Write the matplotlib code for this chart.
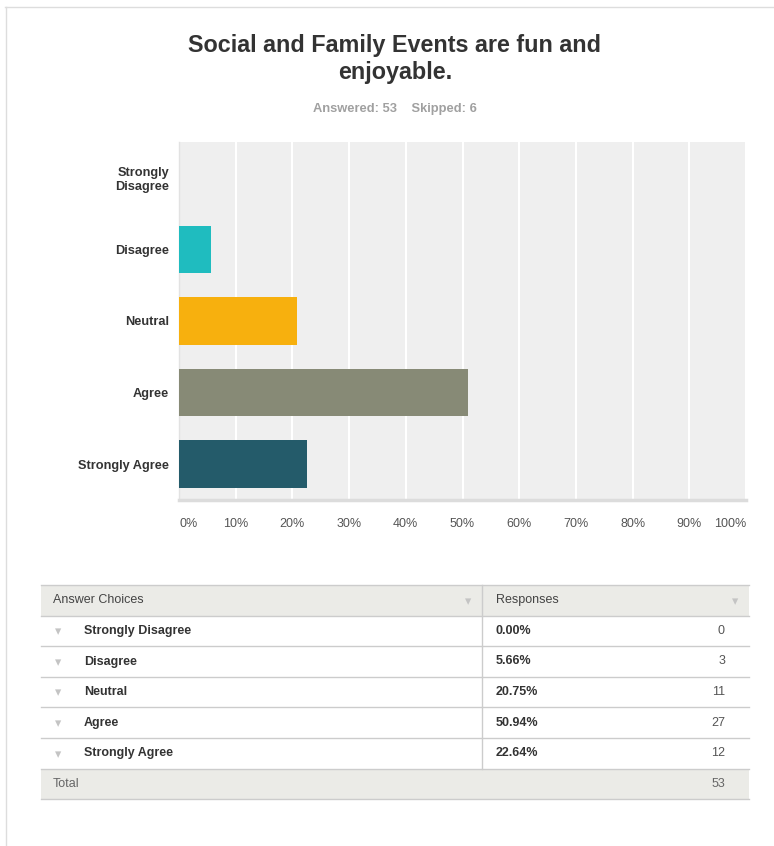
import matplotlib

matplotlib.use("Agg")
import matplotlib.pyplot as plt
from matplotlib.patches import Rectangle

plt.rcParams["font.family"] = ["Liberation Sans", "DejaVu Sans"]

title = "Social and Family Events are fun and\nenjoyable."
subtitle = "Answered: 53    Skipped: 6"
choices = ["Strongly Disagree", "Disagree", "Neutral", "Agree", "Strongly Agree"]
axis_labels = ["Strongly\nDisagree", "Disagree", "Neutral", "Agree", "Strongly Agree"]
percents = [0.00, 5.66, 20.75, 50.94, 22.64]
counts = [0, 3, 11, 27, 12]
total = 53
bar_colors = ["#1fbcbf", "#1fbcbf", "#f7b00e", "#878a76", "#245b6a"]
xticks = list(range(0, 101, 10))

W, H = 774, 846
fig = plt.figure(figsize=(W / 100, H / 100), dpi=100)
fig.patch.set_facecolor("white")

# page overlay in pixel coordinates
bg = fig.add_axes([0, 0, 1, 1], zorder=0)
bg.set_xlim(0, W)
bg.set_ylim(H, 0)
bg.axis("off")
bg.plot([5, W], [7.5, 7.5], color="#dddddd", lw=1)
bg.plot([5.5, 5.5], [7, H], color="#dddddd", lw=1)

bg.text(395, 59, title, ha="center", va="center", fontsize=16.8, fontweight="bold",
        color="#333333", linespacing=1.2)
bg.text(395, 109, subtitle, ha="center", va="center", fontsize=9.3, fontweight="bold",
        color="#a0a0a0")

# bar chart
left, right, top, bottom = 179, 746, 142, 500
ax = fig.add_axes([left / W, 1 - bottom / H, (right - left) / W, (bottom - top) / H], zorder=1)
ax.set_facecolor("#efefef")
ypos = list(range(len(choices)))
ax.barh(ypos, percents, height=0.667, color=bar_colors, zorder=3)
ax.set_xlim(0, 100)
ax.set_ylim(len(choices) - 0.5, -0.5)
ax.set_xticks(xticks)
ax.set_xticklabels([f"{t}%" for t in xticks], fontsize=9, color="#555555")
labels = ax.get_xticklabels()
labels[0].set_horizontalalignment("left")
labels[-1].set_horizontalalignment("right")
ax.set_yticks(ypos)
ax.set_yticklabels(axis_labels, fontsize=9.2, fontweight="bold", color="#333333",
                   linespacing=1.2)
ax.tick_params(axis="x", length=0, pad=13)
ax.tick_params(axis="y", length=0, pad=7)
ax.grid(axis="x", color="white", lw=1.5, zorder=1)
for side in ["top", "right"]:
    ax.spines[side].set_visible(False)
ax.spines["left"].set_color("#e2e2e2")
ax.spines["left"].set_linewidth(1)
ax.spines["bottom"].set_color("#dcdcdc")
ax.spines["bottom"].set_linewidth(2.5)

# response table
tx0, tx1, tdiv = 41, 749, 482
ty0, rh = 585, 30.6
head_bg = "#ebebe7"
line_c = "#cccccc"
bg.add_patch(Rectangle((tx0, ty0), tx1 - tx0, rh, facecolor=head_bg, edgecolor="none"))
n = len(choices)
ytot = ty0 + rh * (n + 1)
bg.add_patch(Rectangle((tx0, ytot), tx1 - tx0, rh, facecolor=head_bg, edgecolor="none"))
for i in range(n + 3):
    y = ty0 + rh * i
    bg.plot([tx0, tx1], [y, y], color=line_c, lw=1)
bg.plot([tdiv, tdiv], [ty0, ytot], color=line_c, lw=1)

yc = ty0 + rh / 2
bg.text(53, yc, "Answer Choices", ha="left", va="center", fontsize=9, color="#444444")
bg.text(496, yc, "Responses", ha="left", va="center", fontsize=9, color="#444444")
for tri_x in [468, 735]:
    bg.text(tri_x, yc + 1, "\u25be", ha="center", va="center", fontsize=9,
            color="#c4c4c4", family="DejaVu Sans")
for i, (name, pct, cnt) in enumerate(zip(choices, percents, counts)):
    y = ty0 + rh * (i + 1) + rh / 2
    bg.text(58, y + 1, "\u25be", ha="center", va="center", fontsize=9,
            color="#c4c4c4", family="DejaVu Sans")
    bg.text(84, y, name, ha="left", va="center", fontsize=9, fontweight="bold", color="#333333")
    bg.text(496, y, f"{pct:.2f}%", ha="left", va="center", fontsize=9, fontweight="bold",
            color="#333333")
    bg.text(725, y, str(cnt), ha="right", va="center", fontsize=9, color="#555555")
y = ytot + rh / 2
bg.text(53, y, "Total", ha="left", va="center", fontsize=9, color="#666666")
bg.text(725, y, str(total), ha="right", va="center", fontsize=9, color="#666666")

fig.savefig("out.png", dpi=100)
